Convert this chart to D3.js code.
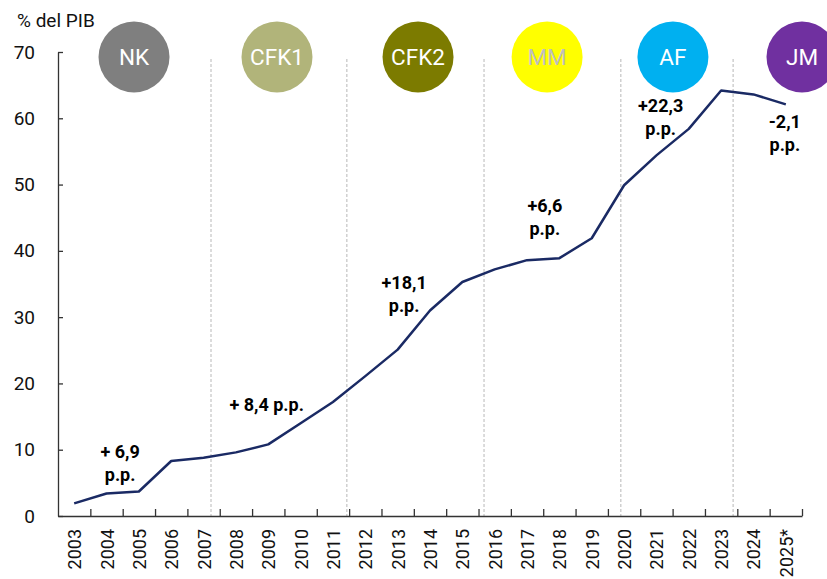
<!DOCTYPE html>
<html lang="es">
<head>
<meta charset="UTF-8">
<title>Deuda % del PIB</title>
<script src="https://d3js.org/d3.v7.min.js"></script>
<style>
    body { margin: 0; background: #fff; font-family: Roboto, 'Noto Sans', sans-serif; }
    svg text { font-family: Roboto, 'Noto Sans', sans-serif; }
</style>
</head>
<body>
<svg id="chart" width="827" height="579"></svg>
<script>
// años y valores (% del PIB)
const years = d3.range(2003, 2026);
const yearLabels = years.map(y => y === 2025 ? "2025*" : String(y));
const values = [1.9, 3.4, 3.7, 8.3, 8.8, 9.6, 10.8, 14.0, 17.2, 21.1, 25.1, 31.0,
                35.3, 37.2, 38.6, 38.9, 41.9, 49.9, 54.4, 58.4, 64.2, 63.6, 62.1];
const yTicks = [0, 10, 20, 30, 40, 50, 60, 70];

// presidencias: etiqueta, color, color del texto, posición (año)
const terms = ["NK", "CFK1", "CFK2", "MM", "AF", "JM"];
const termColors = ["#7f7f7f", "#b1b47a", "#7c7b00", "#ffff00", "#00b0f0", "#7030a0"];
const termTextColors = ["#fff", "#fff", "#fff", "#bfbfbf", "#fff", "#fff"];
const termYear = [2004.85, 2009.27, 2013.63, 2017.62, 2021.51, 2025.5];
// cambios de mandato (líneas punteadas)
const dividers = [2007.23, 2011.43, 2015.67, 2019.9, 2023.37];

// variaciones por mandato
const changeLines = [["+ 6,9", "p.p."], ["+ 8,4 p.p."], ["+18,1", "p.p."], ["+6,6", "p.p."], ["+22,3", "p.p."], ["-2,1", "p.p."]];
const changeYear = [2004.42, 2008.95, 2013.2, 2017.55, 2021.13, 2024.97];
const changeValue = [8.7, 15.9, 34.3, 45.9, 60.9, 58.5];

const svg = d3.select("#chart");
const mLeft = 58, mRight = 802, mTop = 52, mBottom = 516;

const x = d3.scaleLinear().domain([2002.5, 2025.5]).range([mLeft, mRight]);
const y = d3.scaleLinear().domain([0, 70]).range([mBottom, mTop]);

// eje y
const yAxis = svg.append("g")
    .attr("transform", `translate(${mLeft},0)`)
    .call(d3.axisLeft(y).tickValues(yTicks).tickSize(-5).tickPadding(23).tickSizeOuter(0));
yAxis.select(".domain").attr("stroke", "#333").attr("stroke-width", 1.3);
yAxis.selectAll(".tick line").attr("stroke", "#333").attr("stroke-width", 1.3);
yAxis.selectAll("text").attr("font-size", 19).attr("fill", "#111");

svg.append("text")
    .attr("x", 17).attr("y", 27)
    .attr("font-size", 19).attr("fill", "#111")
    .text("% del PIB");

// líneas de cambio de mandato
svg.append("g").selectAll("line")
    .data(dividers)
    .join("line")
    .attr("x1", d => x(d)).attr("x2", d => x(d))
    .attr("y1", 59).attr("y2", mBottom)
    .attr("stroke", "#b8b8b8")
    .attr("stroke-width", 1)
    .attr("stroke-dasharray", "3,2");

// eje x: marcas entre años
const xAxis = svg.append("g")
    .attr("transform", `translate(0,${mBottom})`)
    .call(d3.axisBottom(x).tickValues(d3.range(2003.5, 2026, 1)).tickSize(-7).tickFormat("").tickSizeOuter(0));
xAxis.select(".domain").attr("stroke", "#333").attr("stroke-width", 1.3);
xAxis.selectAll(".tick line").attr("stroke", "#333").attr("stroke-width", 1.3);

// etiquetas de años
const xLab = svg.append("g")
    .attr("transform", `translate(0,${mBottom})`)
    .call(d3.axisBottom(x).tickValues(years).tickSize(0).tickFormat((d, i) => yearLabels[i]));
xLab.select(".domain").remove();
xLab.selectAll("text")
    .attr("font-size", 18).attr("fill", "#111")
    .attr("transform", "rotate(-90)")
    .attr("text-anchor", "end")
    .attr("x", -13).attr("y", 0).attr("dy", "0.36em");

// línea
const line = d3.line().x((d, i) => x(years[i])).y(d => y(d));
svg.append("path")
    .datum(values)
    .attr("fill", "none")
    .attr("stroke", "#1a2a64")
    .attr("stroke-width", 2.5)
    .attr("stroke-linejoin", "round")
    .attr("d", line);

// círculos de presidencias
const circ = svg.append("g").selectAll("g")
    .data(terms)
    .join("g")
    .attr("transform", (d, i) => `translate(${x(termYear[i])},57)`);
circ.append("circle")
    .attr("r", 35.5)
    .attr("fill", (d, i) => termColors[i]);
circ.append("text")
    .attr("text-anchor", "middle")
    .attr("dy", "0.36em")
    .attr("font-size", 22.5)
    .attr("fill", (d, i) => termTextColors[i])
    .text(d => d);

// anotaciones
const ann = svg.append("g").selectAll("text")
    .data(changeLines)
    .join("text")
    .attr("x", (d, i) => x(changeYear[i]))
    .attr("y", (d, i) => y(changeValue[i]))
    .attr("text-anchor", "middle")
    .attr("font-size", 18)
    .attr("font-weight", "bold")
    .attr("fill", "#000");
ann.selectAll("tspan")
    .data(d => d)
    .join("tspan")
    .attr("x", function () { return this.parentNode.getAttribute("x"); })
    .attr("dy", (d, i) => i === 0 ? 0 : 23)
    .text(d => d);
</script>
</body>
</html>
